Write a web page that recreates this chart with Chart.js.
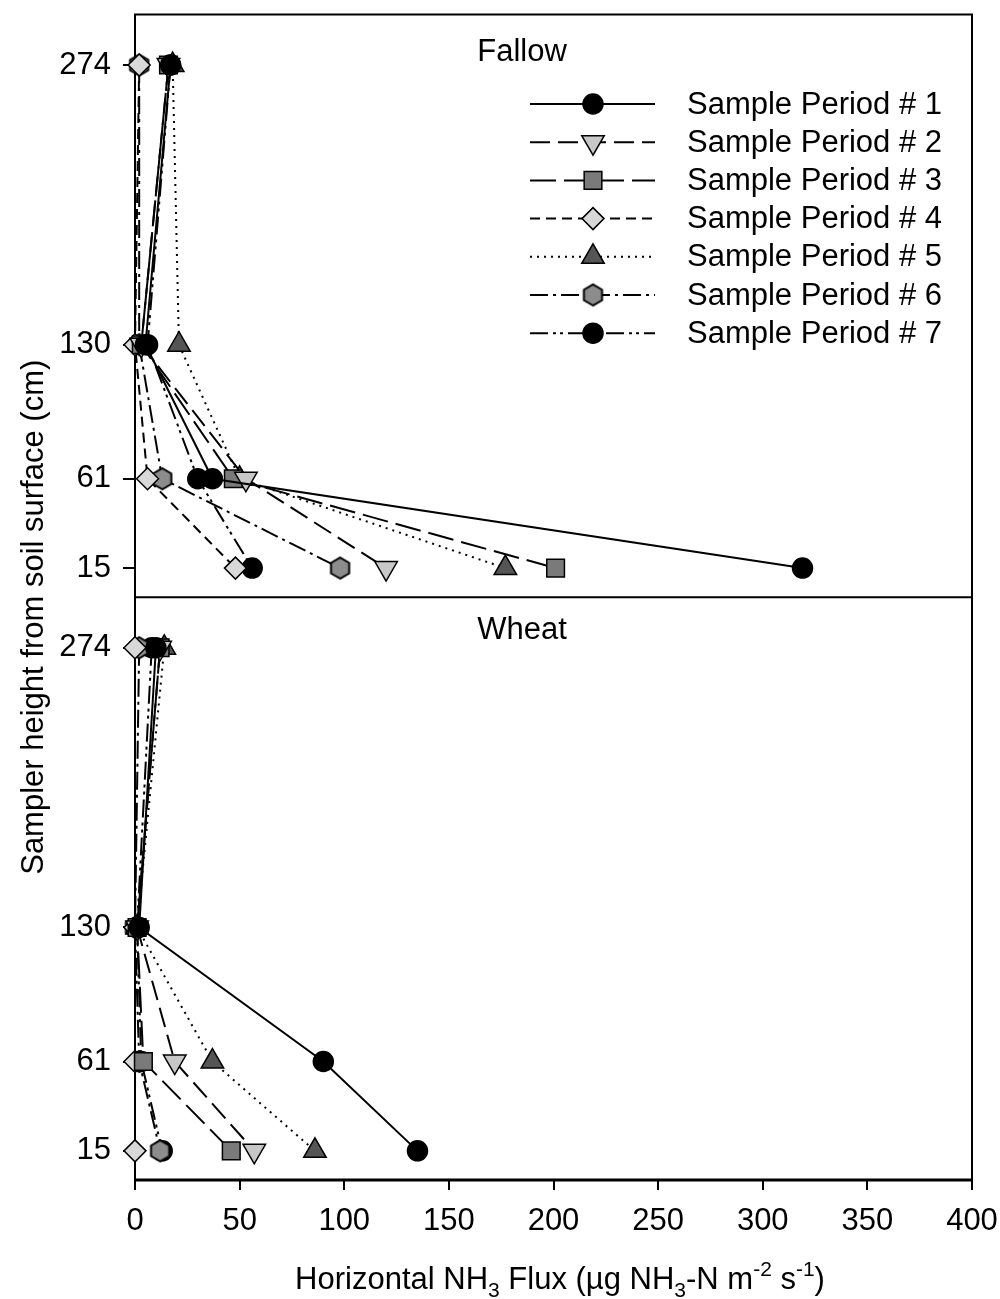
<!DOCTYPE html>
<html>
<head>
<meta charset="utf-8">
<script src="https://cdn.jsdelivr.net/npm/chart.js@4.4.1/dist/chart.umd.min.js"></script>
<style>
  html, body { margin: 0; padding: 0; background: #fff; }
  #wrap { width: 1000px; height: 1299px; }
</style>
</head>
<body>
<div id="wrap"><canvas id="flux" width="1000" height="1299"></canvas></div>
<script>
// sampler heights (cm), top to bottom
const heights = [274, 130, 61, 15];
const heightTicks = [15, 61, 130, 274];
const periods = [
  "Sample Period # 1", "Sample Period # 2", "Sample Period # 3", "Sample Period # 4",
  "Sample Period # 5", "Sample Period # 6", "Sample Period # 7"
];

// horizontal NH3 flux per period, in the same order as heights
const fallowFlux = [
  [17, 5, 37, 319],
  [16, 3, 53, 120],
  [16, 3, 47, 201],
  [2, 0, 6, 48],
  [18, 21, 50, 177],
  [2, 2, 13, 98],
  [17, 6, 30, 56]
];
const wheatFlux = [
  [10, 2, 90, 135],
  [12, 1, 19, 57],
  [12, 1, 4, 46],
  [0, 0, 0, 0],
  [14, 1, 37, 86],
  [2, 0, 2, 12],
  [8, 1, 3, 13]
];

const FONT = "'Liberation Sans', Arial, Helvetica, sans-serif";

function hexagon(r, fill) {
  const c = document.createElement("canvas");
  const s = Math.ceil(r * 2 + 4);
  c.width = c.height = s;
  const g = c.getContext("2d");
  g.beginPath();
  for (let k = 0; k < 6; k++) {
    const a = Math.PI / 2 + k * Math.PI / 3;
    const px = s / 2 + r * Math.cos(a);
    const py = s / 2 + r * Math.sin(a);
    if (k === 0) g.moveTo(px, py); else g.lineTo(px, py);
  }
  g.closePath();
  g.fillStyle = fill;
  g.fill();
  g.lineWidth = 2;
  g.strokeStyle = "#000";
  g.stroke();
  return c;
}

// marker + line style of each period
const periodStyles = [
  { pointStyle: "circle", radius: 10, rotation: 0, fill: "#000", dash: [] },
  { pointStyle: "triangle", radius: 13, rotation: 180, fill: "#c8c8c8", dash: [20, 8] },
  { pointStyle: "rect", radius: 12.5, rotation: 0, fill: "#7a7a7a", dash: [26, 8] },
  { pointStyle: "rectRot", radius: 11, rotation: 0, fill: "#d8d8d8", dash: [10, 6] },
  { pointStyle: "triangle", radius: 13, rotation: 0, fill: "#555", dash: [2, 5] },
  { pointStyle: hexagon(10.5, "#8c8c8c"), radius: 10, rotation: 0, fill: "#8c8c8c", dash: [18, 5, 3, 5] },
  { pointStyle: "circle", radius: 10, rotation: 0, fill: "#000", dash: [18, 5, 3, 4, 3, 5] }
];

function buildDatasets(fluxes, axisId, panel) {
  return fluxes.map((vals, i) => {
    const st = periodStyles[i];
    return {
      label: periods[i],
      panel: panel,
      data: heights.map((h, j) => ({ x: vals[j], y: h })),
      yAxisID: axisId,
      borderColor: "#000",
      borderWidth: 2,
      borderDash: st.dash,
      pointStyle: st.pointStyle,
      pointRadius: st.radius,
      pointRotation: st.rotation,
      pointBackgroundColor: st.fill,
      pointBorderColor: "#000",
      pointBorderWidth: 1.5,
      pointHoverRadius: st.radius,
      tension: 0,
      fill: false,
      clip: false
    };
  });
}

// scales report no label overflow so the plot box sits exactly inside the padding
function noOverflow(s) {
  s.paddingTop = 0;
  s.paddingBottom = 0;
  s.paddingLeft = 0;
  s.paddingRight = 0;
}

const yScale = (weight) => ({
  type: "linear",
  position: "left",
  stack: "panels",
  stackWeight: 1,
  weight: weight,
  min: 0,
  max: 300,
  afterBuildTicks: (s) => { s.ticks = heightTicks.map(v => ({ value: v })); },
  afterFit: (s) => { s.width = 135; noOverflow(s); },
  border: { display: false },
  grid: { drawOnChartArea: false, drawTicks: true, tickLength: 12, color: "#000", lineWidth: 2 },
  ticks: { color: "#000", padding: 12, font: { family: FONT, size: 31 } }
});

const framePlugin = {
  id: "frame",
  beforeDatasetsDraw(chart) {
    const { ctx, chartArea: a } = chart;
    const mid = chart.scales.yTop.bottom;
    ctx.save();
    ctx.strokeStyle = "#000";
    ctx.lineWidth = 2;
    ctx.strokeRect(a.left, a.top, a.right - a.left, a.bottom - a.top);
    ctx.beginPath();
    ctx.moveTo(a.left, mid);
    ctx.lineTo(a.right, mid);
    ctx.stroke();
    ctx.lineWidth = 3;
    ctx.beginPath();
    ctx.moveTo(a.left - 1, a.bottom);
    ctx.lineTo(a.right + 1, a.bottom);
    ctx.stroke();
    ctx.restore();
  },
  afterDraw(chart) {
    const { ctx, chartArea: a } = chart;
    const top = chart.scales.yTop;
    const bottom = chart.scales.yBottom;
    const cx = 522;
    ctx.save();
    ctx.fillStyle = "#000";
    ctx.textAlign = "center";
    ctx.textBaseline = "middle";
    ctx.font = "31px " + FONT;
    ctx.fillText("Fallow", cx, top.top + 38);
    ctx.fillText("Wheat", cx, bottom.top + 33);

    // legend drawn from the fallow datasets
    const rowY0 = 104, rowGap = 38.2;
    const lineL = 530, lineR = 655, markX = 593, textX = 687;
    chart.data.datasets.filter(d => d.panel === "fallow").forEach((ds, i) => {
      const y = rowY0 + i * rowGap;
      ctx.setLineDash(ds.borderDash);
      ctx.lineWidth = 2;
      ctx.strokeStyle = "#000";
      ctx.beginPath();
      ctx.moveTo(lineL, y);
      ctx.lineTo(lineR, y);
      ctx.stroke();
      ctx.setLineDash([]);
      ctx.fillStyle = ds.pointBackgroundColor;
      ctx.lineWidth = ds.pointBorderWidth;
      Chart.helpers.drawPoint(ctx, {
        pointStyle: ds.pointStyle, radius: ds.pointRadius,
        rotation: ds.pointRotation, borderWidth: ds.pointBorderWidth
      }, markX, y);
      ctx.fillStyle = "#000";
      ctx.textAlign = "left";
      ctx.font = "31px " + FONT;
      ctx.fillText(ds.label, textX, y + 1);
    });

    // y axis title spanning both panels
    ctx.save();
    ctx.translate(34, (a.top + a.bottom) / 2 + 20);
    ctx.rotate(-Math.PI / 2);
    ctx.textAlign = "center";
    ctx.font = "31px " + FONT;
    ctx.fillText("Sampler height from soil surface (cm)", 0, 0);
    ctx.restore();

    // x axis title with sub/superscripts
    const parts = [
      ["Horizontal NH", 0], ["3", 1], [" Flux (\u00b5g NH", 0], ["3", 1],
      ["-N m", 0], ["-2", -1], [" s", 0], ["-1", -1], [")", 0]
    ];
    const big = "31px " + FONT, small = "21px " + FONT;
    let total = 0;
    parts.forEach(([t, k]) => { ctx.font = k ? small : big; total += ctx.measureText(t).width; });
    let x = 560 - total / 2;
    const baseY = 1289;
    ctx.textAlign = "left";
    ctx.textBaseline = "alphabetic";
    parts.forEach(([t, k]) => {
      ctx.font = k ? small : big;
      const dy = k === 1 ? 8 : (k === -1 ? -13 : 0);
      ctx.fillText(t, x, baseY + dy);
      x += ctx.measureText(t).width;
    });
    ctx.restore();
  }
};

new Chart(document.getElementById("flux"), {
  type: "line",
  data: {
    datasets: buildDatasets(fallowFlux, "yTop", "fallow").concat(buildDatasets(wheatFlux, "yBottom", "wheat"))
  },
  options: {
    responsive: false,
    animation: false,
    devicePixelRatio: 1,
    layout: { padding: { top: 12, right: 28, left: 0, bottom: 0 } },
    plugins: { legend: { display: false }, tooltip: { enabled: false } },
    scales: {
      x: {
        type: "linear",
        position: "bottom",
        min: 0,
        max: 400,
        afterFit: (s) => { s.height = 119; noOverflow(s); },
        border: { display: false },
        grid: { drawOnChartArea: false, drawTicks: true, tickLength: 10, color: "#000", lineWidth: 2 },
        ticks: { stepSize: 50, color: "#000", padding: 13, maxRotation: 0, font: { family: FONT, size: 31 } }
      },
      yBottom: yScale(1),
      yTop: yScale(2)
    }
  },
  plugins: [framePlugin]
});
</script>
</body>
</html>
